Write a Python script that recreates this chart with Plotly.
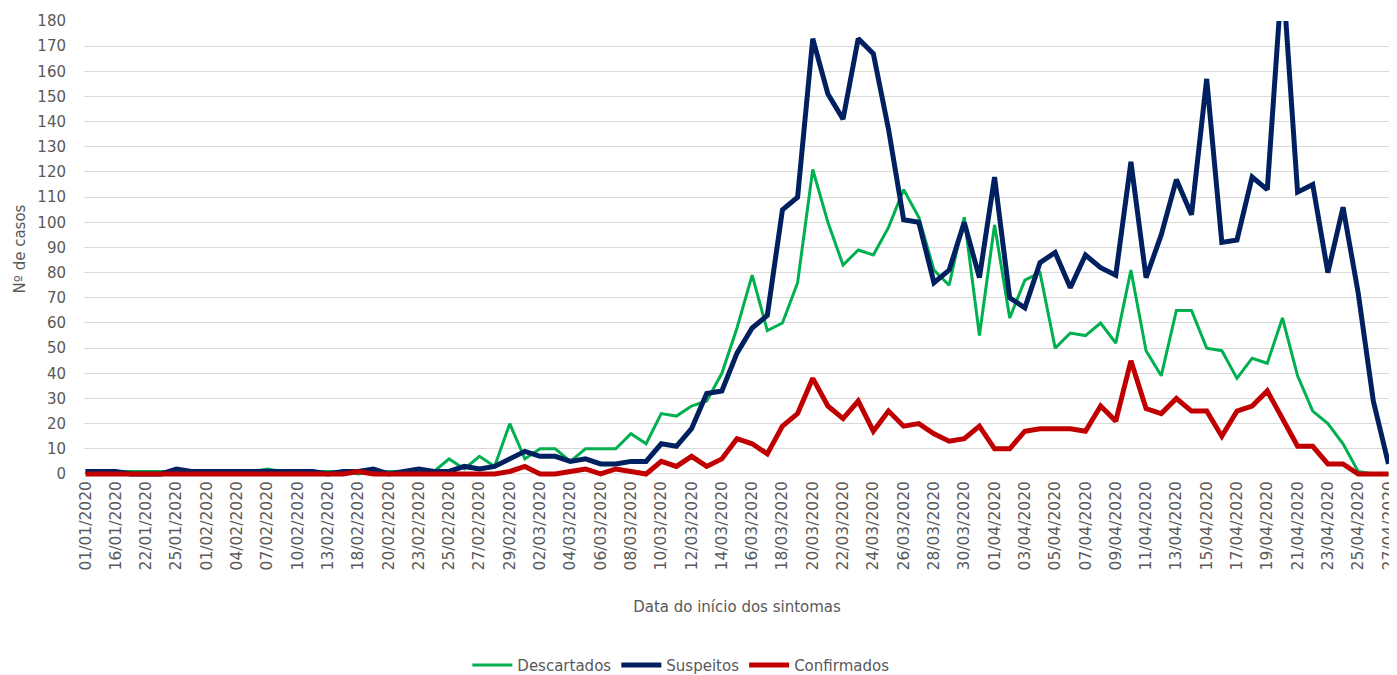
import plotly.graph_objects as go
import pandas as pd

# Categories (dates of symptom onset)
early_dates = ["01/01/2020", "10/01/2020", "16/01/2020", "20/01/2020", "22/01/2020",
               "23/01/2020", "25/01/2020", "28/01/2020", "01/02/2020", "03/02/2020",
               "04/02/2020", "06/02/2020", "07/02/2020", "08/02/2020", "10/02/2020",
               "11/02/2020", "13/02/2020", "14/02/2020", "18/02/2020", "19/02/2020",
               "20/02/2020", "22/02/2020", "23/02/2020", "24/02/2020"]
later_dates = [d.strftime("%d/%m/%Y") for d in pd.date_range("2020-02-25", "2020-04-27")]
dates = early_dates + later_dates

descartados = [1, 1, 1, 1, 1, 1, 1, 1, 1, 1, 1, 1, 2, 1, 1, 1, 1, 1, 0, 1, 1, 1, 1, 1,
               6, 2, 7, 3, 20, 6, 10, 10, 5, 10, 10, 10, 16, 12, 24, 23, 27, 29, 40, 58,
               79, 57, 60, 76, 121, 100, 83, 89, 87, 98, 113, 102, 81, 75, 102, 55, 99,
               62, 77, 80, 50, 56, 55, 60, 52, 81, 49, 39, 65, 65, 50, 49, 38, 46, 44,
               62, 39, 25, 20, 12, 1, 0, 0]
suspeitos = [1, 1, 1, 0, 0, 0, 2, 1, 1, 1, 1, 1, 1, 1, 1, 1, 0, 1, 1, 2, 0, 1, 2, 1,
             1, 3, 2, 3, 6, 9, 7, 7, 5, 6, 4, 4, 5, 5, 12, 11, 18, 32, 33, 48, 58, 63,
             105, 110, 173, 151, 141, 173, 167, 137, 101, 100, 76, 81, 100, 78, 118,
             70, 66, 84, 88, 74, 87, 82, 79, 124, 78, 95, 117, 103, 157, 92, 93, 118,
             113, 200, 112, 115, 80, 106, 72, 29, 4]
confirmados = [0, 0, 0, 0, 0, 0, 0, 0, 0, 0, 0, 0, 0, 0, 0, 0, 0, 0, 1, 0, 0, 0, 0, 0,
               0, 0, 0, 0, 1, 3, 0, 0, 1, 2, 0, 2, 1, 0, 5, 3, 7, 3, 6, 14, 12, 8, 19,
               24, 38, 27, 22, 29, 17, 25, 19, 20, 16, 13, 14, 19, 10, 10, 17, 18, 18,
               18, 17, 27, 21, 45, 26, 24, 30, 25, 25, 15, 25, 27, 33, 22, 11, 11, 4, 4,
               0, 0, 0]

tick_labels = dates[::2]
y_ticks = list(range(0, 181, 10))

FONT = "DejaVu Sans"
GREY = "#595959"

fig = go.Figure()
fig.add_trace(go.Scatter(x=dates, y=descartados, mode="lines", name="Descartados",
                         line=dict(color="#00B050", width=3)))
fig.add_trace(go.Scatter(x=dates, y=suspeitos, mode="lines", name="Suspeitos",
                         line=dict(color="#002060", width=5)))
fig.add_trace(go.Scatter(x=dates, y=confirmados, mode="lines", name="Confirmados",
                         line=dict(color="#C00000", width=5)))

# The page body adds an 8px offset, so the figure is sized/margined to compensate.
fig.update_layout(
    width=1389, height=667,
    margin=dict(l=76, r=7, t=13, b=198, autoexpand=False),
    paper_bgcolor="white", plot_bgcolor="white",
    font=dict(family=FONT, size=15, color=GREY),
    showlegend=True,
    legend=dict(orientation="h", x=0.457, xanchor="center", y=-0.413, yanchor="middle",
                font=dict(family=FONT, size=15, color=GREY), itemwidth=40,
                traceorder="normal"),
    xaxis=dict(type="category", categoryorder="array", categoryarray=dates,
               range=[-0.1, len(dates) - 0.9], automargin=False,
               tickmode="array", tickvals=tick_labels, ticktext=tick_labels,
               tickangle=-90, showgrid=False, showline=False, zeroline=False,
               tickfont=dict(family=FONT, size=15.5, color=GREY),
               title=dict(text="Data do início dos sintomas", standoff=32,
                          font=dict(family=FONT, size=15, color=GREY))),
    yaxis=dict(range=[-1.2, 180], tickmode="array", tickvals=y_ticks, automargin=False,
               showgrid=True, gridcolor="#D9D9D9", gridwidth=1.3, zeroline=False,
               showline=False, ticks="outside", ticklen=14, tickcolor="rgba(0,0,0,0)",
               tickfont=dict(family=FONT, size=15, color=GREY),
               title=dict(text="Nº de casos", standoff=8,
                          font=dict(family=FONT, size=15, color=GREY))),
)

fig.write_html("out.html")
